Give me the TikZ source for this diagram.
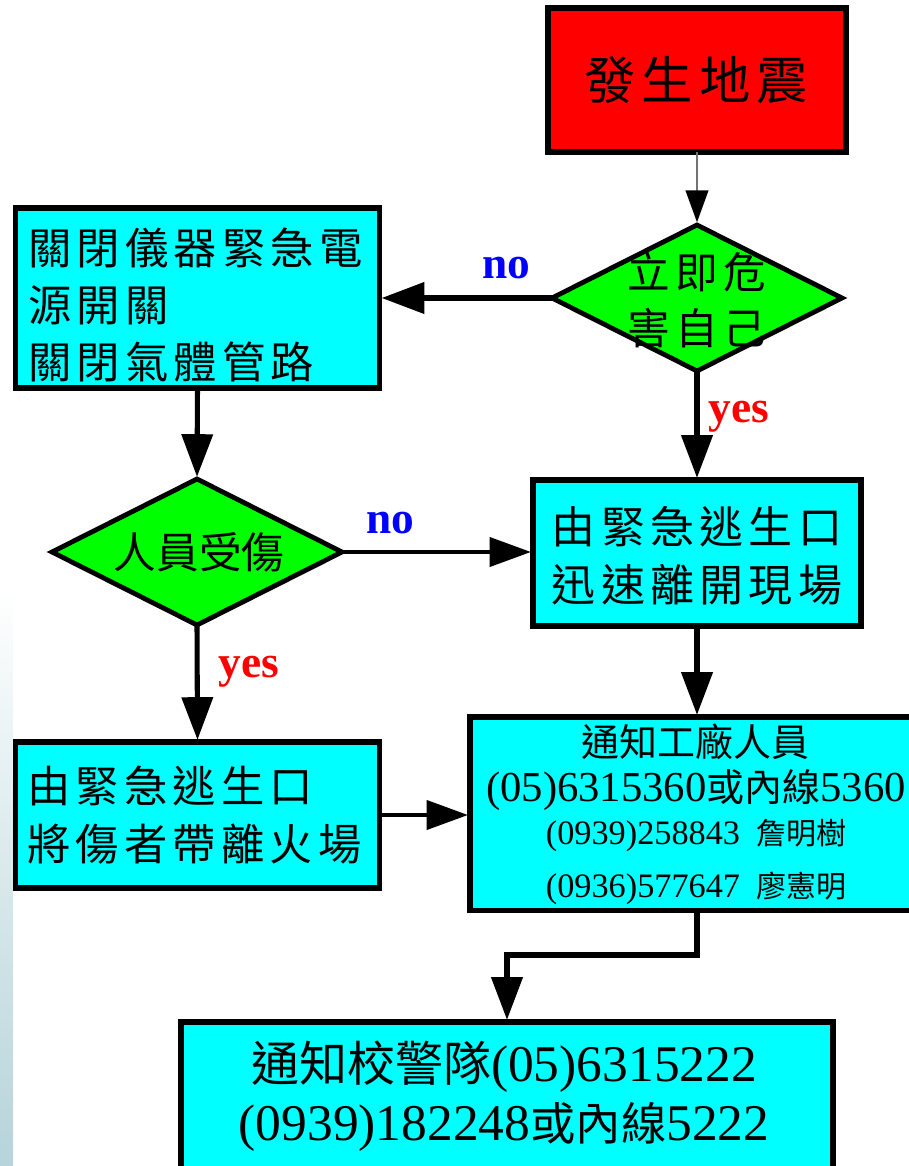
\documentclass[tikz,border=0pt]{standalone}
\usepackage{fontspec}
\usetikzlibrary{arrows.meta,shapes.geometric}
\setmainfont{Liberation Serif}
\newfontfamily\cjk{Noto Sans CJK TC}
\newfontfamily\cjkw[LetterSpace=12]{Noto Sans CJK TC}
\definecolor{boxcyan}{RGB}{0,255,255}
\definecolor{dgreen}{RGB}{0,255,0}
\definecolor{redbox}{RGB}{255,0,0}
\definecolor{edgeblue}{RGB}{182,212,218}
\definecolor{edgemid}{RGB}{226,238,240}
\newcommand{\fsz}[2]{\fontsize{#1}{#2}\selectfont}
\tikzset{
  x=0.75pt,y=-0.75pt,
  panel/.style={draw=black,line width=3.9pt,fill=boxcyan,inner sep=0pt,outer sep=0pt,anchor=north west,align=center},
  choice/.style={draw=black,line width=3.6pt,fill=dgreen,diamond,inner sep=0pt,outer sep=0pt,minimum width=217.5pt,minimum height=109.5pt},
  caption/.style={inner sep=0pt,align=center},
  thinlink/.style={draw=black!55,line width=1.5pt,-{Triangle[length=24pt,width=17pt,color=black]},shorten >=2pt},
  midlink/.style={draw=black,line width=2.4pt,-{Triangle[length=31pt,width=22pt]},shorten >=1.6pt},
  heavylink/.style={draw=black,line width=3.8pt,-{Triangle[length=32pt,width=23pt]},shorten >=1.6pt},
  yeslabel/.style={text=red,inner sep=0pt,anchor=base,font=\bfseries\fsz{34}{34}},
  nolabel/.style={text=blue,inner sep=0pt,anchor=base,font=\bfseries\fsz{34}{34}},
}
\begin{document}
\begin{tikzpicture}
\useasboundingbox (0,0) rectangle (908,1166);
\fill[top color=white,bottom color=edgemid] (0,590) rectangle (13,800);
\fill[top color=edgemid,bottom color=edgeblue] (0,800) rectangle (13,1166);

\node[panel,fill=redbox,minimum width=223.5pt,minimum height=108pt] (start) at (548,8) {};
\node[caption,font={\cjkw\fsz{38.5}{42}}] (startt) at (696,80) {發生地震};

\node[choice] (d1) at (697,298) {};
\node[caption,font={\cjkw\fsz{32}{42}}] (d1t) at (697,300) {立即危\\害自己};

\node[panel,minimum width=273pt,minimum height=135pt] (a) at (15.5,208) {};
\node[caption,align=left,anchor=west,font={\cjkw\fsz{32.5}{42.5}}] (at) at (28,305) {關閉儀器緊急電\\源開關\\關閉氣體管路};

\node[choice] (d2) at (197,552) {};
\node[caption,font={\cjk\fsz{32}{42}}] (d2t) at (199,552) {人員受傷};

\node[panel,minimum width=246pt,minimum height=109.5pt] (b) at (533,480) {};
\node[caption,font={\cjkw\fsz{33}{44}}] (bt) at (697,556) {由緊急逃生口\\迅速離開現場};

\node[panel,minimum width=273pt,minimum height=109.5pt] (c) at (15.5,742) {};
\node[caption,align=left,anchor=west,font={\cjkw\fsz{32.5}{44}}] (ct) at (27,815) {由緊急逃生口\\將傷者帶離火場};

\node[panel,minimum width=340.5pt,minimum height=145pt] (d) at (470,717) {};
\node[caption,font={\cjk\fsz{28.5}{30}}] (dt1) at (695,742) {通知工廠人員};
\node[caption,font={\fsz{32}{32}}] (dt2) at (696,790) {(05)6315360{\cjk\fsz{28.5}{30}或內線}5360};
\node[caption,font={\fsz{25.7}{26}}] (dt3) at (696,836) {(0939)258843\hspace{12pt}{\cjk\fsz{22.5}{24}詹明樹}};
\node[caption,font={\fsz{25.7}{26}}] (dt4) at (696,888) {(0936)577647\hspace{12pt}{\cjk\fsz{22.5}{24}廖憲明}};

\node[panel,minimum width=489pt,minimum height=120pt] (e) at (181,1022) {};
\node[caption,font={\fsz{38.6}{44}}] (et) at (504,1096) {{\cjk\fsz{36}{44}通知校警隊}(05)6315222\\(0939)182248{\cjk\fsz{34}{44}或內線}5222};

\draw[thinlink] (start.south) -- (d1.north);
\draw[heavylink] (d1.west) -- (a.east |- d1.west);
\draw[heavylink] (d1.south) -- (b.north);
\draw[heavylink] (a.south) -- (d2.north);
\draw[midlink] (d2.east) -- (b.west |- d2.east);
\draw[heavylink] (d2.south) -- (c.north);
\draw[heavylink] (b.south) -- (d.north);
\draw[midlink] (c.east) -- (d.west |- c.east);
\coordinate (bend1) at (697,955);
\coordinate (bend2) at (e.north |- bend1);
\draw[heavylink] (d.south) -- (bend1) -- (bend2) -- (e.north);

\node[nolabel] (no1) at (506,278) {no};
\node[yeslabel] (yes1) at (739,422) {yes};
\node[nolabel] (no2) at (390,533) {no};
\node[yeslabel] (yes2) at (249,677) {yes};
\end{tikzpicture}
\end{document}
